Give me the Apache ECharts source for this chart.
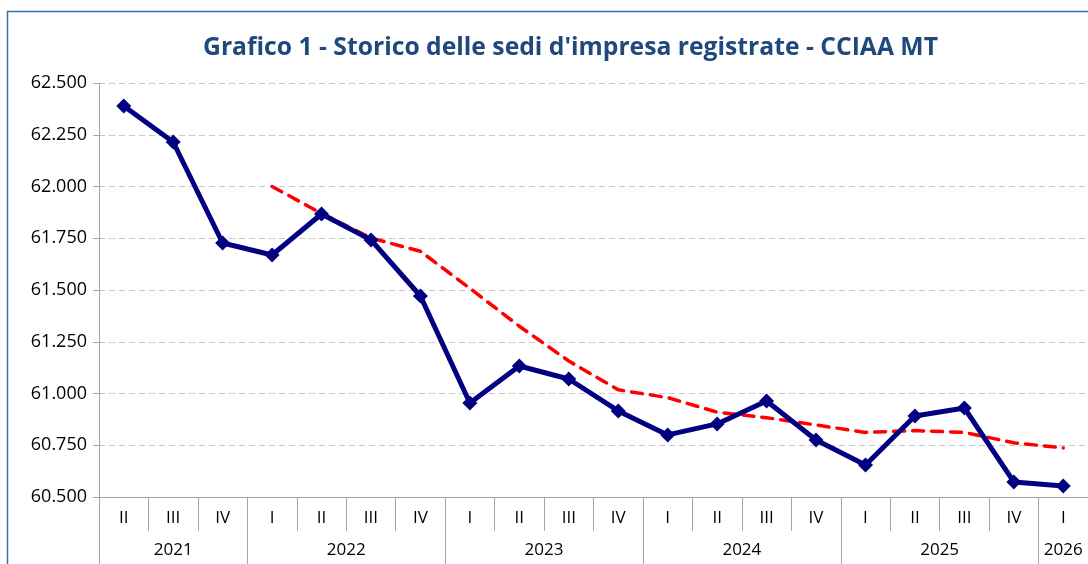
<!DOCTYPE html>
<html>
<head>
<meta charset="utf-8">
<title>Storico sedi d'impresa - CCIAA MT</title>
<script src="https://cdn.jsdelivr.net/npm/echarts@6/dist/echarts.min.js"></script>
<style>
  html, body { margin: 0; padding: 0; background: #fff; }
  #chart { width: 1088px; height: 564px; }
</style>
</head>
<body>
<div id="chart"></div>
<script>
// trimestri e anni (una voce per ogni punto)
var quarters = ['II', 'III', 'IV', 'I', 'II', 'III', 'IV', 'I', 'II', 'III', 'IV',
  'I', 'II', 'III', 'IV', 'I', 'II', 'III', 'IV', 'I'];
var years = ['2021', '2021', '2021', '2022', '2022', '2022', '2022', '2023', '2023', '2023', '2023',
  '2024', '2024', '2024', '2024', '2025', '2025', '2025', '2025', '2026'];

// sedi d'impresa registrate
var sedi = [62389, 62215, 61727, 61669, 61867, 61742, 61471, 60954, 61133, 61070, 60916,
  60800, 60853, 60964, 60775, 60655, 60891, 60930, 60573, 60553];

// linea di tendenza (media mobile), parte dal primo trimestre 2022
var tendenza = [null, null, null, 62000, 61870, 61751, 61687, 61508, 61325, 61157, 61018,
  60980, 60910, 60883, 60848, 60812, 60821, 60812, 60762, 60737];

var yTicks = [60500, 60750, 61000, 61250, 61500, 61750, 62000, 62250, 62500];

/* posizioni dei gruppi di anni sull'asse */
var yearCenters = [], yearBounds = [], yearAt = {};
var start = 0;
for (var i = 1; i <= years.length; i++) {
  if (i == years.length || years[i] != years[start]) {
    var c = (start + i - 1) / 2;
    yearCenters.push(c);
    yearAt[c] = years[start];
    yearBounds.push(start - 0.5);
    start = i;
  }
}

function fmt(v) {
  return String(v).replace(/\B(?=(\d{3})+(?!\d))/g, '.');
}

var font = 'Open Sans';
var chart = echarts.init(document.getElementById('chart'));

chart.setOption({
  animation: false,
  backgroundColor: '#fff',
  title: {
    text: "Grafico 1 - Storico delle sedi d'impresa registrate - CCIAA MT",
    left: 198,
    top: 30,
    textStyle: { color: '#1F497D', fontFamily: font, fontWeight: 'bold', fontSize: 24.7 }
  },
  graphic: [{
    type: 'rect',
    shape: { x: 7.5, y: 11.5, width: 1200, height: 700 },
    style: { fill: null, stroke: '#2E75B6', lineWidth: 1.5 },
    silent: true
  }],
  grid: { left: 99, top: 83, width: 996, height: 414 },
  xAxis: [{
    type: 'category',
    data: quarters,
    axisLine: { show: true, lineStyle: { color: '#a6a6a6' } },
    axisTick: { show: true, length: 34, interval: 0, lineStyle: { color: '#a6a6a6' } },
    axisLabel: { interval: 0, margin: 13, color: '#000', fontFamily: font, fontSize: 17 }
  }, {
    type: 'value',
    min: -0.5,
    max: quarters.length - 0.5,
    position: 'bottom',
    offset: 34,
    splitLine: { show: false },
    axisLine: { show: false },
    axisTick: { show: true, length: 40, customValues: yearBounds, lineStyle: { color: '#a6a6a6' } },
    axisLabel: {
      customValues: yearCenters,
      margin: 11,
      color: '#000', fontFamily: font, fontSize: 17,
      formatter: function (v) { return yearAt[v] || ''; }
    }
  }],
  yAxis: {
    type: 'value',
    min: 60500,
    max: 62500,
    interval: 250,
    axisLine: { show: true, onZero: false, lineStyle: { color: '#a6a6a6' } },
    axisTick: { show: true, length: 6, lineStyle: { color: '#a6a6a6' } },
    axisLabel: { color: '#000', fontFamily: font, fontSize: 18, margin: 12, formatter: fmt },
    splitLine: { lineStyle: { color: '#c8c8c8', type: [6, 4], width: 1 } }
  },
  series: [{
    name: 'Sedi registrate',
    type: 'line',
    data: sedi,
    symbol: 'diamond',
    symbolSize: 15,
    lineStyle: { color: '#000080', width: 5 },
    itemStyle: { color: '#000080' },
    z: 3
  }, {
    name: 'Tendenza',
    type: 'line',
    data: tendenza,
    symbol: 'none',
    lineStyle: { color: '#FF0000', width: 3.5, type: [11, 8], cap: 'round' },
    z: 2
  }]
});
</script>
</body>
</html>
